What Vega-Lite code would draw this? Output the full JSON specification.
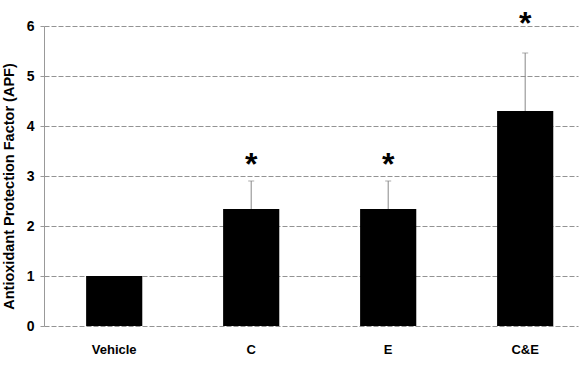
{
  "$schema": "https://vega.github.io/schema/vega-lite/v6.json",
  "width": 534,
  "height": 300,
  "autosize": "none",
  "padding": {"left": 44, "top": 26, "right": 2, "bottom": 40},
  "background": "white",
  "config": {
    "view": {"stroke": null},
    "font": "Liberation Sans"
  },
  "data": {
    "values": [
      {"group": "Vehicle", "apf": 1.0, "err_top": null, "star": null},
      {"group": "C", "apf": 2.34, "err_top": 2.9, "star": 3.36},
      {"group": "E", "apf": 2.34, "err_top": 2.9, "star": 3.36},
      {"group": "C&E", "apf": 4.3, "err_top": 5.46, "star": 6.18}
    ]
  },
  "encoding": {
    "x": {
      "field": "group",
      "type": "nominal",
      "sort": null,
      "scale": {"paddingInner": 0.59, "paddingOuter": 0.244, "align": 0.63},
      "axis": {
        "title": null,
        "labelAngle": 0,
        "labelFont": "Liberation Sans",
        "labelFontWeight": "bold",
        "labelFontSize": 13,
        "labelColor": "#000",
        "labelPadding": 17,
        "ticks": false,
        "domain": false,
        "grid": false
      }
    }
  },
  "layer": [
    {
      "mark": {"type": "bar", "color": "#000"},
      "encoding": {
        "y": {
          "field": "apf",
          "type": "quantitative",
          "scale": {"domain": [0, 6], "nice": false},
          "axis": {
            "title": "Antioxidant Protection Factor (APF)",
            "titleFont": "Liberation Sans",
            "titleFontWeight": "bold",
            "titleFontSize": 14.5,
            "titleColor": "#000",
            "titlePadding": 10,
            "titleY": 160,
            "values": [0, 1, 2, 3, 4, 5, 6],
            "labelFont": "Liberation Sans",
            "labelFontWeight": "bold",
            "labelFontSize": 14,
            "labelColor": "#000",
            "labelPadding": 6,
            "tickSize": 4,
            "tickColor": "#999",
            "domainColor": "#999",
            "domainWidth": 1,
            "grid": true,
            "gridColor": "#777",
            "gridDash": [5, 2],
            "gridWidth": 0.8
          }
        }
      }
    },
    {
      "mark": {"type": "rule", "color": "#888", "strokeWidth": 1},
      "encoding": {
        "y": {"field": "apf", "type": "quantitative"},
        "y2": {"field": "err_top"}
      }
    },
    {
      "mark": {"type": "tick", "color": "#888", "thickness": 1, "size": 6, "orient": "horizontal"},
      "encoding": {
        "y": {"field": "err_top", "type": "quantitative"}
      }
    },
    {
      "mark": {"type": "text", "fontSize": 32, "fontWeight": "bold", "font": "Liberation Sans", "color": "#000", "baseline": "middle", "dy": 7},
      "transform": [{"filter": "datum.star != null"}],
      "encoding": {
        "y": {"field": "star", "type": "quantitative"},
        "text": {"value": "*"}
      }
    }
  ]
}
